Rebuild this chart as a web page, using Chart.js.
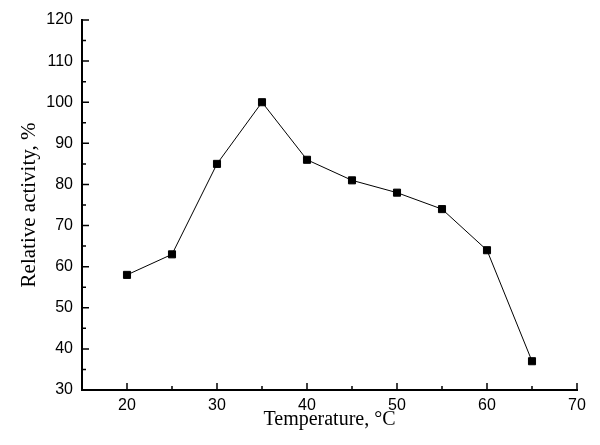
<!DOCTYPE html>
<html>
<head>
<meta charset="utf-8">
<script src="https://cdn.jsdelivr.net/npm/chart.js@4"></script>
<style>
    html, body { margin: 0; padding: 0; background: #ffffff; }
    #wrap { width: 600px; height: 445px; }
</style>
</head>
<body>
<div id="wrap"><canvas id="activityChart" width="600" height="445"></canvas></div>
<script>
/* ============================
   Data
============================ */
const temperatures = [20, 25, 30, 35, 40, 45, 50, 55, 60, 65];
const activity = [58, 63, 85, 100, 86, 81, 78, 74, 64, 37];

const xTicks = [20, 30, 40, 50, 60, 70];
const yTicks = [30, 40, 50, 60, 70, 80, 90, 100, 110, 120];

const points = temperatures.map((t, i) => ({ x: t, y: activity[i] }));

/* ============================
   Inward tick marks (major + minor)
============================ */
const inwardTicks = {
    id: 'inwardTicks',
    afterDraw(chart) {
        const ctx = chart.ctx;
        const xs = chart.scales.x;
        const ys = chart.scales.y;
        const area = chart.chartArea;
        ctx.save();
        ctx.strokeStyle = '#000';
        ctx.lineWidth = 1.5;
        ctx.beginPath();
        for (let v = 20; v <= 70; v += 5) {
            const px = xs.getPixelForValue(v);
            const len = v % 10 === 0 ? 7 : 4;
            ctx.moveTo(px, area.bottom);
            ctx.lineTo(px, area.bottom - len);
        }
        for (let v = 35; v <= 120; v += 5) {
            const py = ys.getPixelForValue(v);
            const len = v % 10 === 0 ? 7 : 4;
            ctx.moveTo(area.left, py);
            ctx.lineTo(area.left + len, py);
        }
        ctx.stroke();
        ctx.restore();
    }
};

const tickFont = { family: '"Liberation Sans", Arial, sans-serif', size: 16 };
const serif = '"Liberation Serif", "Times New Roman", serif';

new Chart(document.getElementById('activityChart').getContext('2d'), {
    type: 'scatter',
    data: {
        datasets: [{
            data: points,
            showLine: true,
            borderColor: '#000',
            borderWidth: 1,
            backgroundColor: '#000',
            pointStyle: 'rect',
            pointRadius: 5,
            pointBorderWidth: 1,
            pointBorderColor: '#000',
            pointBackgroundColor: '#000'
        }]
    },
    options: {
        responsive: false,
        animation: false,
        layout: { padding: { top: 20, right: 23, left: 0, bottom: 0 } },
        plugins: {
            legend: { display: false },
            tooltip: { enabled: false }
        },
        scales: {
            x: {
                type: 'linear',
                min: 15,
                max: 70,
                afterBuildTicks: scale => {
                    scale.ticks = xTicks.map(v => ({ value: v }));
                },
                afterFit: scale => { scale.height = 55; },
                grid: { display: false, drawTicks: false },
                border: { display: true, color: '#000', width: 2 },
                ticks: {
                    color: '#000',
                    font: tickFont,
                    padding: 6,
                    maxRotation: 0
                },
                title: {
                    display: true,
                    text: 'Temperature, °C',
                    color: '#000',
                    font: { family: serif, size: 20 },
                    padding: { top: 0, bottom: 13 }
                }
            },
            y: {
                min: 30,
                max: 120,
                afterBuildTicks: scale => {
                    scale.ticks = yTicks.map(v => ({ value: v }));
                },
                afterFit: scale => { scale.width = 82; },
                grid: { display: false, drawTicks: false },
                border: { display: true, color: '#000', width: 2 },
                ticks: {
                    color: '#000',
                    font: tickFont,
                    padding: 9
                },
                title: {
                    display: true,
                    text: 'Relative activity, %',
                    color: '#000',
                    font: { family: serif, size: 21 },
                    padding: { top: 17, bottom: 0 }
                }
            }
        }
    },
    plugins: [inwardTicks]
});
</script>
</body>
</html>
